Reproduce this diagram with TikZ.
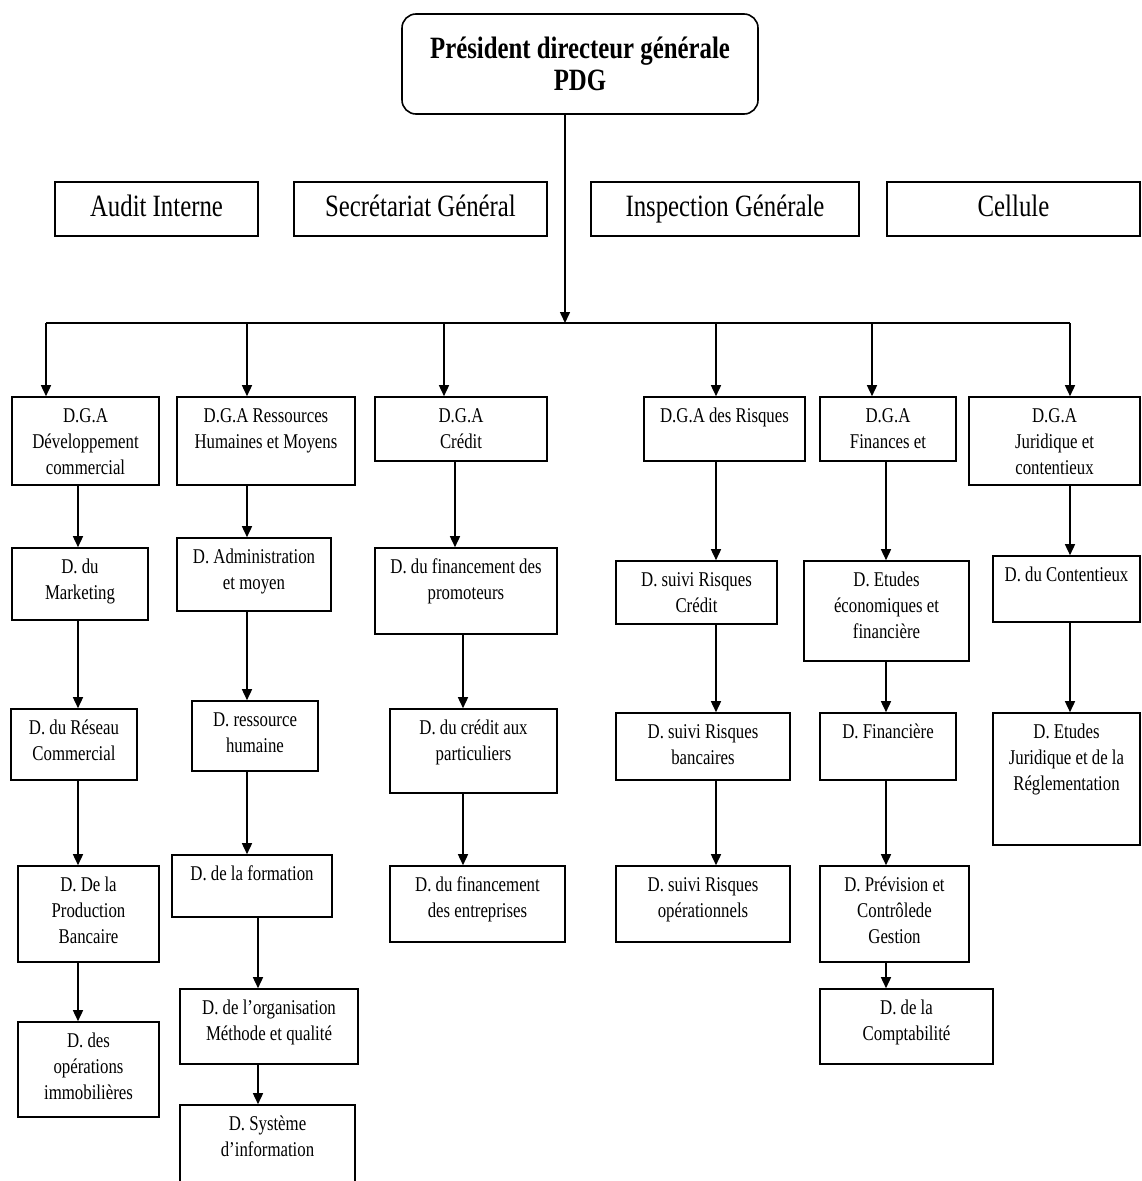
\documentclass[tikz,border=0pt]{standalone}
\usepackage{fontspec}
\setmainfont{Liberation Serif}[FakeStretch=0.8]
\usepackage{tikz}
\usetikzlibrary{arrows.meta,positioning}
\newcommand{\cell}[3]{\parbox[c][#2][t]{#1}{\centering\vspace*{7pt}\strut #3\par}}

\begin{document}
\begin{tikzpicture}[x=1pt,y=-1pt,
      unit/.style={draw,line width=1.6pt,inner sep=0pt,
                   font=\fontsize{21}{26}\selectfont},
      staff/.style={draw,line width=1.6pt,inner sep=0pt,minimum height=54pt,
                    text height=21pt,text depth=6pt,
                    font=\fontsize{31}{34}\selectfont},
      boss/.style={draw,line width=1.6pt,rounded corners=14pt,
                   minimum width=356pt,minimum height=100pt,align=center,
                   font=\fontsize{31}{32}\selectfont\bfseries},
      link/.style={line width=1.5pt},
      arr/.style={-{Triangle[length=11pt,width=10pt]},line width=1.5pt}
    ]
      \fill[white] (0,0) rectangle (1141,1181);
      \useasboundingbox (0,0) rectangle (1141,1181);
      % PDG and staff units
      \node[boss] (pdg) at (580,64) {Président directeur générale\\PDG};
      \node[staff,minimum width=203pt] (audit)   at (156.5,209) {Audit Interne};
      \node[staff,minimum width=253pt] (sg)      at (420.5,209) {Secrétariat Général};
      \node[staff,minimum width=268pt] (insp)    at (725,209)   {Inspection Générale};
      \node[staff,minimum width=253pt] (cellule) at (1013.5,209) {Cellule};
      % bus and drops
      \coordinate (bus) at (565,323);
      \coordinate (t1) at (46,323);  \coordinate (t2) at (247,323);
      \coordinate (t3) at (444,323); \coordinate (t4) at (716,323);
      \coordinate (t5) at (872,323); \coordinate (t6) at (1070,323);
      % column axes
      \coordinate (k1) at (78,0);   \coordinate (k2) at (247,0);  \coordinate (k2b) at (258,0);
      \coordinate (k3) at (455,0);  \coordinate (k3b) at (463,0); \coordinate (k4) at (716,0);
      \coordinate (k5) at (886,0);  \coordinate (k6) at (1070,0);
      % D.G.A Developpement commercial
      \node[unit] (dgaDev) at (85.5,441)  {\cell{147pt}{88pt}{D.G.A\\Développement\\commercial}};
      \node[unit] (mkt)    at (80,584)    {\cell{136pt}{72pt}{D. du\\Marketing}};
      \node[unit] (reseau) at (74,744.5)  {\cell{126pt}{71pt}{D. du Réseau\\Commercial}};
      \node[unit] (prod)   at (88.5,914)  {\cell{141pt}{96pt}{D. De la\\Production\\Bancaire}};
      \node[unit] (immo)   at (88.5,1069.5) {\cell{141pt}{95pt}{D. des\\opérations\\immobilières}};
      % D.G.A Ressources Humaines et Moyens
      \node[unit] (dgaRH) at (266,441)    {\cell{178pt}{88pt}{D.G.A Ressources\\Humaines et Moyens}};
      \node[unit] (adm)   at (254,574.5)  {\cell{154pt}{73pt}{D. Administration\\et moyen}};
      \node[unit] (rh)    at (255,736)    {\cell{126pt}{70pt}{D. ressource\\humaine}};
      \node[unit] (form)  at (252,886)    {\cell{160pt}{62pt}{D. de la formation}};
      \node[unit] (org)   at (269,1026.5) {\cell{178pt}{75pt}{D. de l'organisation\\Méthode et qualité}};
      \node[unit] (si)    at (267.5,1147.5) {\cell{175pt}{85pt}{D. Système\\d'information}};
      % D.G.A Credit
      \node[unit] (dgaCred) at (461,429)   {\cell{172pt}{64pt}{D.G.A\\Crédit}};
      \node[unit] (promo)   at (466,591)   {\cell{182pt}{86pt}{D. du financement des\\promoteurs}};
      \node[unit] (part)    at (473.5,751) {\cell{167pt}{84pt}{D. du crédit aux\\particuliers}};
      \node[unit] (entr)    at (477.5,904) {\cell{175pt}{76pt}{D. du financement\\des entreprises}};
      % D.G.A des Risques
      \node[unit] (dgaRisq) at (724.5,429) {\cell{161pt}{64pt}{D.G.A des Risques}};
      \node[unit] (rcred)   at (696.5,592.5) {\cell{161pt}{63pt}{D. suivi Risques\\Crédit}};
      \node[unit] (rbanc)   at (703,746.5) {\cell{174pt}{67pt}{D. suivi Risques\\bancaires}};
      \node[unit] (rop)     at (703,904)   {\cell{174pt}{76pt}{D. suivi Risques\\opérationnels}};
      % D.G.A Finances
      \node[unit] (dgaFin) at (888,429)    {\cell{136pt}{64pt}{D.G.A\\Finances et}};
      \node[unit] (etEco)  at (886.5,611)  {\cell{165pt}{100pt}{D. Etudes\\économiques et\\financière}};
      \node[unit] (fin)    at (888,746.5)  {\cell{136pt}{67pt}{D. Financière}};
      \node[unit] (prev)   at (894.5,914)  {\cell{149pt}{96pt}{D. Prévision et\\Contrôlede\\Gestion}};
      \node[unit] (compta) at (906.5,1026.5) {\cell{173pt}{75pt}{D. de la\\Comptabilité}};
      % D.G.A Juridique
      \node[unit] (dgaJur) at (1054.5,441) {\cell{171pt}{88pt}{D.G.A\\Juridique et\\contentieux}};
      \node[unit] (cont)   at (1066.5,589) {\cell{147pt}{66pt}{D. du Contentieux}};
      \node[unit] (etJur)  at (1066.5,779) {\cell{147pt}{132pt}{D. Etudes\\Juridique et de la\\Réglementation}};
      % connectors
      \draw[arr] (pdg.south -| bus) -- (bus);
      \draw[link] (t1) -- (t6);
      \draw[arr] (t1) -- (dgaDev.north -| t1);  \draw[arr] (t2) -- (dgaRH.north -| t2);
      \draw[arr] (t3) -- (dgaCred.north -| t3); \draw[arr] (t4) -- (dgaRisq.north -| t4);
      \draw[arr] (t5) -- (dgaFin.north -| t5);  \draw[arr] (t6) -- (dgaJur.north -| t6);
      \draw[arr] (dgaDev.south -| k1) -- (mkt.north -| k1);   \draw[arr] (mkt.south -| k1) -- (reseau.north -| k1);
      \draw[arr] (reseau.south -| k1) -- (prod.north -| k1);  \draw[arr] (prod.south -| k1) -- (immo.north -| k1);
      \draw[arr] (dgaRH.south -| k2) -- (adm.north -| k2);    \draw[arr] (adm.south -| k2) -- (rh.north -| k2);
      \draw[arr] (rh.south -| k2) -- (form.north -| k2);      \draw[arr] (form.south -| k2b) -- (org.north -| k2b);
      \draw[arr] (org.south -| k2b) -- (si.north -| k2b);
      \draw[arr] (dgaCred.south -| k3) -- (promo.north -| k3); \draw[arr] (promo.south -| k3b) -- (part.north -| k3b);
      \draw[arr] (part.south -| k3b) -- (entr.north -| k3b);
      \draw[arr] (dgaRisq.south -| k4) -- (rcred.north -| k4); \draw[arr] (rcred.south -| k4) -- (rbanc.north -| k4);
      \draw[arr] (rbanc.south -| k4) -- (rop.north -| k4);
      \draw[arr] (dgaFin.south -| k5) -- (etEco.north -| k5);  \draw[arr] (etEco.south -| k5) -- (fin.north -| k5);
      \draw[arr] (fin.south -| k5) -- (prev.north -| k5);      \draw[arr] (prev.south -| k5) -- (compta.north -| k5);
      \draw[arr] (dgaJur.south -| k6) -- (cont.north -| k6);   \draw[arr] (cont.south -| k6) -- (etJur.north -| k6);
\end{tikzpicture}
\end{document}
